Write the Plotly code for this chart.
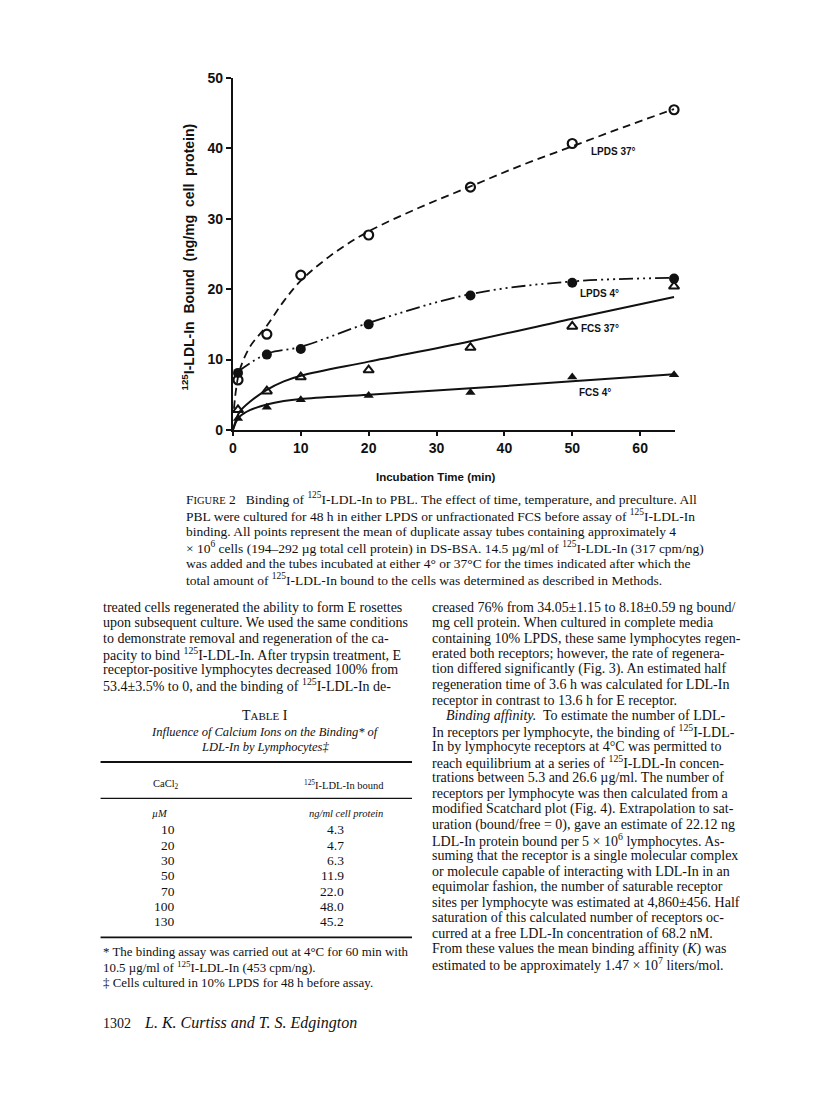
import plotly.graph_objects as go

# ---- figure data ----
time_min = [0.75, 5, 10, 20, 35, 50, 65]
lpds_37 = [7.1, 13.6, 22.0, 27.7, 34.5, 40.7, 45.5]
lpds_4 = [8.1, 10.7, 11.5, 15.0, 19.1, 20.9, 21.5]
fcs_37 = [2.85, 5.5, 7.5, 8.5, 11.7, 14.7, 20.4]
fcs_4 = [1.6, 3.2, 4.3, 4.9, 5.3, 7.5, 7.85]

# hand-drawn fitted curves
lpds37_fit_x = [0.15, 0.5, 1, 2.5, 5, 7.5, 10, 15, 20, 27.5, 35, 42.5, 50, 57.5, 65]
lpds37_fit_y = [3.0, 6.0, 8.5, 11.8, 14.8, 18.3, 21.2, 25.2, 28.2, 31.6, 34.6, 37.6, 40.3, 43.0, 45.6]
lpds4_fit_x = [0.75, 5, 10, 20, 35, 50, 65]
lpds4_fit_y = [8.3, 10.8, 11.8, 15.2, 19.3, 21.1, 21.6]
fcs37_fit_x = [0, 0.5, 1, 2.5, 5, 7.5, 10, 20, 35, 50, 65]
fcs37_fit_y = [0, 1.5, 2.6, 4.0, 5.7, 6.9, 7.7, 9.7, 12.6, 15.8, 18.9]
fcs4_fit_x = [0, 0.5, 1, 2.5, 5, 7.5, 10, 20, 35, 50, 65]
fcs4_fit_y = [0, 1.2, 1.9, 2.8, 3.6, 4.1, 4.4, 5.0, 5.9, 6.9, 7.9]

x_ticks = [0, 10, 20, 30, 40, 50, 60]
y_ticks = [0, 10, 20, 30, 40, 50]

# ---- table I ----
cacl2_um = [10, 20, 30, 50, 70, 100, 130]
ldl_bound = [4.3, 4.7, 6.3, 11.9, 22.0, 48.0, 45.2]

# ---- page text ----
caption_lines = [
    "F<span style='font-size:10.5px'>IGURE</span> 2   Binding of <sup>125</sup>I-LDL-In to PBL. The effect of time, temperature, and preculture. All",
    "PBL were cultured for 48 h in either LPDS or unfractionated FCS before assay of <sup>125</sup>I-LDL-In",
    "binding. All points represent the mean of duplicate assay tubes containing approximately 4",
    "× 10<sup>6</sup> cells (194–292 µg total cell protein) in DS-BSA. 14.5 µg/ml of <sup>125</sup>I-LDL-In (317 cpm/ng)",
    "was added and the tubes incubated at either 4° or 37°C for the times indicated after which the",
    "total amount of <sup>125</sup>I-LDL-In bound to the cells was determined as described in Methods.",
]
left_lines = [
    "treated cells regenerated the ability to form E rosettes",
    "upon subsequent culture. We used the same conditions",
    "to demonstrate removal and regeneration of the ca-",
    "pacity to bind <sup>125</sup>I-LDL-In. After trypsin treatment, E",
    "receptor-positive lymphocytes decreased 100% from",
    "53.4±3.5% to 0, and the binding of <sup>125</sup>I-LDL-In de-",
]
right_lines = [
    "creased 76% from 34.05±1.15 to 8.18±0.59 ng bound/",
    "mg cell protein. When cultured in complete media",
    "containing 10% LPDS, these same lymphocytes regen-",
    "erated both receptors; however, the rate of regenera-",
    "tion differed significantly (Fig. 3). An estimated half",
    "regeneration time of 3.6 h was calculated for LDL-In",
    "receptor in contrast to 13.6 h for E receptor.",
    "    <i>Binding affinity.</i>  To estimate the number of LDL-",
    "In receptors per lymphocyte, the binding of <sup>125</sup>I-LDL-",
    "In by lymphocyte receptors at 4°C was permitted to",
    "reach equilibrium at a series of <sup>125</sup>I-LDL-In concen-",
    "trations between 5.3 and 26.6 µg/ml. The number of",
    "receptors per lymphocyte was then calculated from a",
    "modified Scatchard plot (Fig. 4). Extrapolation to sat-",
    "uration (bound/free = 0), gave an estimate of 22.12 ng",
    "LDL-In protein bound per 5 × 10<sup>6</sup> lymphocytes. As-",
    "suming that the receptor is a single molecular complex",
    "or molecule capable of interacting with LDL-In in an",
    "equimolar fashion, the number of saturable receptor",
    "sites per lymphocyte was estimated at 4,860±456. Half",
    "saturation of this calculated number of receptors oc-",
    "curred at a free LDL-In concentration of 68.2 nM.",
    "From these values the mean binding affinity (<i>K</i>) was",
    "estimated to be approximately 1.47 × 10<sup>7</sup> liters/mol.",
]
footnotes = [
    "* The binding assay was carried out at 4°C for 60 min with",
    "10.5 µg/ml of <sup>125</sup>I-LDL-In (453 cpm/ng).",
    "‡ Cells cultured in 10% LPDS for 48 h before assay.",
]

W, H = 816, 1099
INK = "#111111"
SANS = "Liberation Sans, Arial, sans-serif"
SERIF = "Liberation Serif, DejaVu Serif, serif"


def px(x):
    return x / W


def py(y):
    return 1 - y / H


fig = go.Figure()

# fitted curves
fig.add_trace(go.Scatter(x=lpds37_fit_x, y=lpds37_fit_y, mode="lines", line_shape="spline",
                         line=dict(color=INK, width=1.8, dash="8px,5px"), hoverinfo="skip"))
fig.add_trace(go.Scatter(x=lpds4_fit_x, y=lpds4_fit_y, mode="lines", line_shape="spline",
                         line=dict(color=INK, width=1.8, dash="14px,4px,2px,4px,2px,4px,2px,4px"),
                         hoverinfo="skip"))
fig.add_trace(go.Scatter(x=fcs37_fit_x, y=fcs37_fit_y, mode="lines", line_shape="spline",
                         line=dict(color=INK, width=2), hoverinfo="skip"))
fig.add_trace(go.Scatter(x=fcs4_fit_x, y=fcs4_fit_y, mode="lines", line_shape="spline",
                         line=dict(color=INK, width=2), hoverinfo="skip"))

# data points
fig.add_trace(go.Scatter(x=time_min, y=lpds_37, mode="markers", cliponaxis=False,
                         marker=dict(symbol="circle-open", size=9, color=INK, line=dict(width=2.2))))
fig.add_trace(go.Scatter(x=time_min, y=lpds_4, mode="markers", cliponaxis=False,
                         marker=dict(symbol="circle", size=10, color=INK)))
fig.add_trace(go.Scatter(x=time_min, y=fcs_37, mode="markers", cliponaxis=False,
                         marker=dict(symbol="triangle-up-open", size=9, color=INK, line=dict(width=2))))
fig.add_trace(go.Scatter(x=time_min, y=fcs_4, mode="markers", cliponaxis=False,
                         marker=dict(symbol="triangle-up", size=9, color=INK)))

# curve labels
for lx, ly, lt in [(52.5, 39.6, "LPDS 37°"), (50.8, 19.4, "LPDS 4°"),
                   (51.0, 14.4, "FCS 37°"), (50.7, 5.3, "FCS 4°")]:
    fig.add_annotation(x=lx, y=ly, xref="x", yref="y", text=lt, showarrow=False,
                       xanchor="left", yanchor="middle",
                       font=dict(family=SANS, size=10, color=INK, weight="bold"))

ann = []


def line(x, y, s, size=14, family=SERIF, anchor="left", bold=False):
    f = dict(family=family, size=size, color=INK)
    if bold:
        f["weight"] = "bold"
    ann.append(dict(x=px(x), y=py(y), xref="paper", yref="paper", text=s, showarrow=False,
                    xanchor=anchor, yanchor="middle", font=f))


# axis titles
ann.append(dict(x=px(177), y=py(245), xref="paper", yref="paper", showarrow=False, textangle=-90,
                xanchor="center", yanchor="middle",
                text="<sup>125</sup>I-LDL-In  Bound  (ng/mg  cell  protein)",
                font=dict(family=SANS, size=14, color=INK, weight="bold")))
line(426, 468, "Incubation Time (min)", size=11.5, family=SANS, anchor="center", bold=True)

# caption
for i, s in enumerate(caption_lines):
    line(173, 490 + i * 16.4, s, size=13.5)

# columns
for i, s in enumerate(left_lines):
    line(89, 600 + i * 15.75, s)
for i, s in enumerate(right_lines):
    line(420, 600 + i * 15.75, s)

# table I
line(254, 710, "T<span style='font-size:11px'>ABLE</span> I", size=14, anchor="center")
line(254, 727, "<i>Influence of Calcium Ions on the Binding* of</i>", size=12.5, anchor="center")
line(254, 742, "<i>LDL-In by Lymphocytes‡</i>", size=12.5, anchor="center")
line(155, 780, "CaCl<sub>2</sub>", size=10.5, anchor="center")
line(334, 780, "<sup>125</sup>I-LDL-In bound", size=10.5, anchor="center")
line(149, 809, "<i>µM</i>", size=10.5, anchor="center")
line(336, 809, "<i>ng/ml cell protein</i>", size=10.5, anchor="center")
for i, (c, v) in enumerate(zip(cacl2_um, ldl_bound)):
    line(166, 826 + i * 15.5, str(c), size=13.5, anchor="right")
    line(336, 826 + i * 15.5, f"{v:.1f}", size=13.5, anchor="right")
for i, s in enumerate(footnotes):
    line(89, 950 + i * 15.5, s, size=12.9)

# footer
line(89, 1022, "1302", size=14)
line(131, 1022, "<i>L. K. Curtiss and T. S. Edgington</i>", size=16)

shapes = []
for yy, wdt in [(757, 1.8), (794, 1.2), (935, 1.8)]:
    shapes.append(dict(type="line", xref="paper", yref="paper", x0=px(89), x1=px(402),
                       y0=py(yy), y1=py(yy), line=dict(color=INK, width=wdt)))

axis_font = dict(family=SANS, size=14, color=INK, weight="bold")
fig.update_layout(
    width=W, height=H,
    margin=dict(l=0, r=0, t=0, b=0),
    paper_bgcolor="white", plot_bgcolor="white",
    showlegend=False,
    annotations=list(fig.layout.annotations) + ann,
    shapes=shapes,
    xaxis=dict(domain=[px(222), px(666)], range=[0, 65.1], tickvals=x_ticks,
               showline=True, linecolor=INK, linewidth=2, ticks="outside", ticklen=4,
               tickwidth=2, tickcolor=INK, showgrid=False, zeroline=False,
               tickfont=axis_font, fixedrange=True),
    yaxis=dict(domain=[py(420), py(63)], range=[0, 50], tickvals=y_ticks,
               showline=True, linecolor=INK, linewidth=2.2, ticks="outside", ticklen=5,
               tickwidth=2, tickcolor=INK, showgrid=False, zeroline=False,
               tickfont=axis_font, fixedrange=True),
)

fig.write_html("out.html")
